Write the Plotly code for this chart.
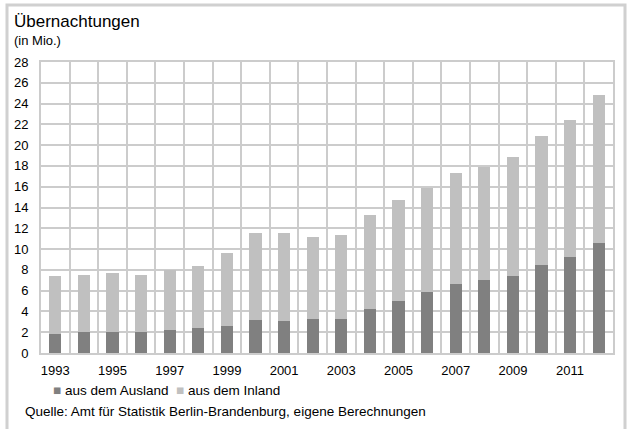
import plotly.graph_objects as go

years = [1993, 1994, 1995, 1996, 1997, 1998, 1999, 2000, 2001, 2002,
         2003, 2004, 2005, 2006, 2007, 2008, 2009, 2010, 2011, 2012]
ausland = [1.83, 1.98, 2.0, 2.0, 2.17, 2.37, 2.6, 3.13, 3.04, 3.23,
           3.3, 4.2, 5.0, 5.85, 6.6, 7.05, 7.4, 8.45, 9.25, 10.55]
inland = [5.6, 5.5, 5.7, 5.5, 5.8, 6.0, 7.0, 8.4, 8.5, 7.9,
          8.1, 9.1, 9.7, 10.0, 10.7, 10.8, 11.5, 12.4, 13.2, 14.3]
x_ticks = [1993, 1995, 1997, 1999, 2001, 2003, 2005, 2007, 2009, 2011]
y_ticks = list(range(0, 29, 2))
series_names = ["aus dem Ausland", "aus dem Inland"]
colors = ["#808080", "#c0c0c0"]

W, H = 628, 429
L, R, T, B = 41, 15, 62, 76
pw, ph = W - L - R, H - T - B

def px(x):
    return (x - L) / pw

def py(y):
    return (H - B - y) / ph

FONT = "Liberation Sans, Arial, sans-serif"
GRID = "#cccccc"

cats = [str(y) for y in years]
tick_text = [c if int(c) in x_ticks else "" for c in cats]

fig = go.Figure()
fig.add_trace(go.Bar(x=cats, y=ausland, name=series_names[0], marker_color=colors[0],
                     marker_line_width=0, width=0.42, showlegend=False))
fig.add_trace(go.Bar(x=cats, y=inland, name=series_names[1], marker_color=colors[1],
                     marker_line_width=0, width=0.42, showlegend=False))

fig.update_layout(
    width=W, height=H,
    margin=dict(l=L, r=R, t=T, b=B),
    barmode="stack",
    paper_bgcolor="white", plot_bgcolor="white",
    font=dict(family=FONT, size=13, color="#000000"),
    xaxis=dict(type="category", range=[-0.5, len(cats) - 0.5],
               tickmode="array", tickvals=cats, ticktext=tick_text,
               tickson="boundaries", showgrid=True, gridcolor=GRID, gridwidth=2,
               zeroline=False, showline=True, mirror=True, linecolor=GRID, linewidth=2,
               ticks="", ticklabelstandoff=4, tickangle=0,
               tickfont=dict(size=13, family=FONT)),
    yaxis=dict(range=[0, 28], tickmode="array", tickvals=y_ticks, showgrid=True, gridcolor=GRID,
               gridwidth=2, zeroline=False, showline=True, mirror=True, linecolor=GRID,
               linewidth=2, ticks="",
               ticklabelstandoff=8, tickfont=dict(size=13, family=FONT)),
    shapes=[dict(type="rect", xref="paper", yref="paper",
                 x0=px(7), x1=px(625), y0=py(440), y1=py(5),
                 line=dict(color="#d0d0d0", width=3), layer="below")],
    annotations=[
        dict(text="Übernachtungen", xref="paper", yref="paper", x=px(12), y=py(21),
             xanchor="left", yanchor="middle", showarrow=False, font=dict(size=17)),
        dict(text="(in Mio.)", xref="paper", yref="paper", x=px(12), y=py(40),
             xanchor="left", yanchor="middle", showarrow=False, font=dict(size=13)),
        dict(text=f"<span style='color:{colors[0]}'>■</span> {series_names[0]}"
                  f"  <span style='color:{colors[1]}'>■</span> {series_names[1]}",
             xref="paper", yref="paper", x=px(51), y=py(390),
             xanchor="left", yanchor="middle", showarrow=False, font=dict(size=13.5)),
        dict(text="Quelle: Amt für Statistik Berlin-Brandenburg, eigene Berechnungen",
             xref="paper", yref="paper", x=px(23), y=py(411),
             xanchor="left", yanchor="middle", showarrow=False, font=dict(size=13.5)),
    ],
)

fig.write_html("out.html", config={"displayModeBar": False},
               post_script="document.body.style.margin='0';")
